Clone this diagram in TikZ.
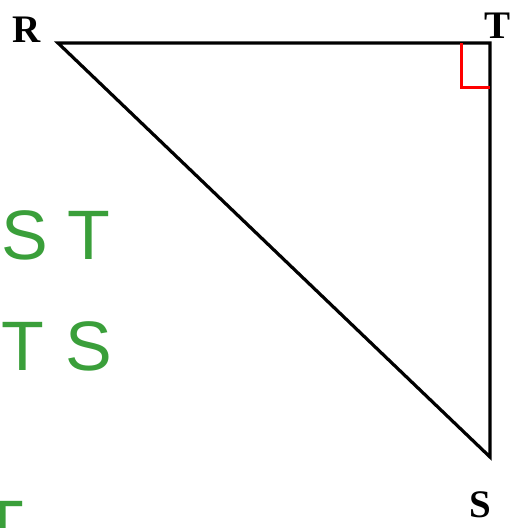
\documentclass[tikz,border=0pt]{standalone}
\usepackage{fontspec}
\setmainfont{Liberation Serif}
\newfontfamily\handfont{Liberation Sans}
\usepackage{xcolor}
\usepackage{tikz}
\usetikzlibrary{calc}
\definecolor{handgreen}{HTML}{3A9F3A}
\definecolor{anglered}{HTML}{FF0000}

\begin{document}
\begin{tikzpicture}[x=1pt,y=-1pt,
  side/.style={line width=3.2pt},
  vlabel/.style={font=\fontsize{39}{39}\selectfont\bfseries,inner sep=0pt},
  hand/.style={text=handgreen,font=\handfont\fontsize{70}{70}\selectfont,inner sep=0pt}]
  \useasboundingbox (0,0) rectangle (512,528);
  \clip (0,0) rectangle (512,528);
  \coordinate (R) at (58,43);
  \coordinate (T) at (490,43);
  \coordinate (S) at (490,457);
  \draw[side] (R) -- (T) -- (S) -- cycle;
  % right angle at T
  \draw[anglered,line width=3pt] ($(T)+(-29,0)$) |- ($(T)+(0,44)$);
  \node[vlabel] (labR) at (27,30) {R};
  \node[vlabel] (labT) at (498,26) {T};
  \node[vlabel] (labS) at (480,505) {S};
  % handwritten notes at the left edge
  \node[hand,anchor=west] (st) at (1,235) {S\hspace{20pt}T};
  \node[hand,anchor=west] (ts) at (1,346) {T\hspace{22pt}S};
  \node[hand] (lowt) at (3,525) {T};
\end{tikzpicture}
\end{document}
